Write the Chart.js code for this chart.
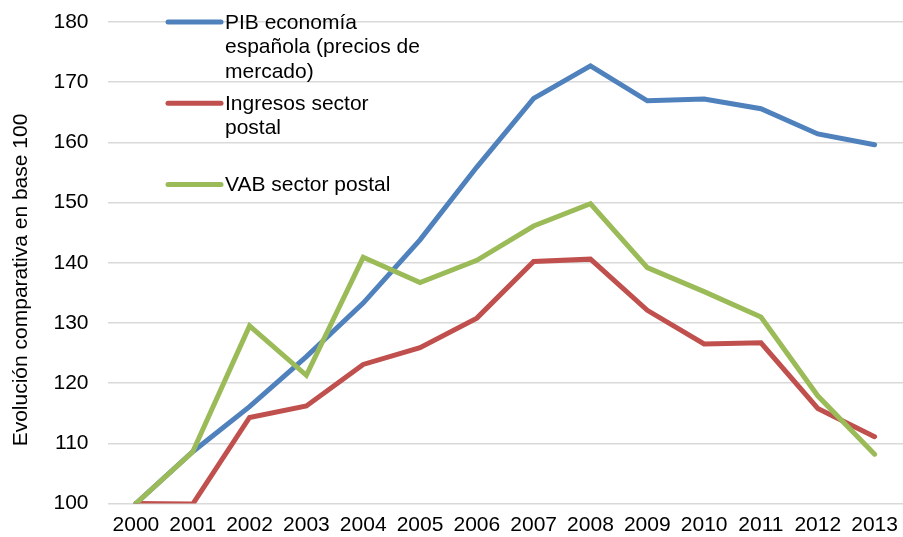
<!DOCTYPE html>
<html>
<head>
<meta charset="utf-8">
<script src="https://cdn.jsdelivr.net/npm/chart.js@4"></script>
<style>
  html, body { margin: 0; padding: 0; background: #fff; }
  #wrap { width: 903px; height: 537px; }
</style>
</head>
<body>
<div id="wrap"><canvas id="chart" width="903" height="537"></canvas></div>
<script>
const years = ['2000', '2001', '2002', '2003', '2004', '2005', '2006', '2007', '2008', '2009', '2010', '2011', '2012', '2013'];
const pib = [100, 108.6, 116.1, 124.4, 133.3, 143.8, 155.9, 167.3, 172.7, 166.9, 167.2, 165.6, 161.4, 159.6];
const ingresos = [100, 99.9, 114.3, 116.2, 123.1, 125.9, 130.8, 140.2, 140.6, 132.1, 126.5, 126.7, 115.8, 111.1];
const vab = [100, 108.6, 129.5, 121.3, 140.9, 136.7, 140.4, 146.1, 149.8, 139.2, 135.2, 131.0, 117.9, 108.2];
const legendLines = [
    ['PIB economía', 'española (precios de', 'mercado)'],
    ['Ingresos sector', 'postal'],
    ['VAB sector postal']
];
const yTitle = 'Evolución comparativa en base 100';

const colors = ['#4F81BD', '#C0504D', '#9BBB59'];
const font = "'Liberation Sans', Arial, sans-serif";

// legend + axis title drawn by hand: Excel wraps the labels and sets the title off-centre
const extras = {
    id: 'extras',
    afterDraw(chart) {
        const ctx = chart.ctx;
        ctx.save();
        ctx.font = '21px ' + font;
        ctx.textBaseline = 'middle';
        legendLines.forEach((lines, i) => {
            const y = 22 + i * 81.2;
            ctx.strokeStyle = colors[i];
            ctx.lineWidth = 5;
            ctx.lineCap = 'round';
            ctx.beginPath();
            ctx.moveTo(168, y);
            ctx.lineTo(221, y);
            ctx.stroke();
            ctx.fillStyle = '#000';
            lines.forEach((t, j) => ctx.fillText(t, 225, y + 1 + j * 24.5));
        });

        ctx.translate(21, 280);
        ctx.rotate(-Math.PI / 2);
        ctx.textAlign = 'center';
        ctx.fillText(yTitle, 0, 0);
        ctx.restore();
    }
};

const series = [pib, ingresos, vab];

new Chart(document.getElementById('chart').getContext('2d'), {
    type: 'line',
    data: {
        labels: years,
        datasets: series.map((d, i) => ({
            label: legendLines[i].join(' '),
            data: d,
            order: 3 - i,
            borderColor: colors[i],
            backgroundColor: colors[i],
            borderWidth: 5,
            pointRadius: 0,
            tension: 0,
            borderCapStyle: 'round',
            borderJoinStyle: 'miter'
        }))
    },
    options: {
        responsive: false,
        animation: false,
        layout: { padding: { top: 22, right: 0, left: 54, bottom: 0 } },
        plugins: {
            legend: { display: false },
            tooltip: { enabled: false }
        },
        scales: {
            x: {
                offset: true,
                grid: { display: false, drawTicks: false },
                border: { display: false },
                ticks: { color: '#000', font: { family: font, size: 21 }, maxRotation: 0, autoSkip: false, padding: 9 },
                afterFit(s) {
                    s.height = 33.5;
                    s.paddingLeft = 0;
                    s.paddingRight = 0;
                }
            },
            y: {
                min: 100,
                max: 180,
                ticks: { stepSize: 10, color: '#000', font: { family: font, size: 21 }, padding: 19 },
                grid: { color: '#d9d9d9', lineWidth: 1.5, drawTicks: false },
                border: { display: false },
                afterFit(s) {
                    s.width = 53.5;
                    s.paddingTop = 0;
                    s.paddingBottom = 0;
                }
            }
        }
    },
    plugins: [extras]
});
</script>
</body>
</html>
